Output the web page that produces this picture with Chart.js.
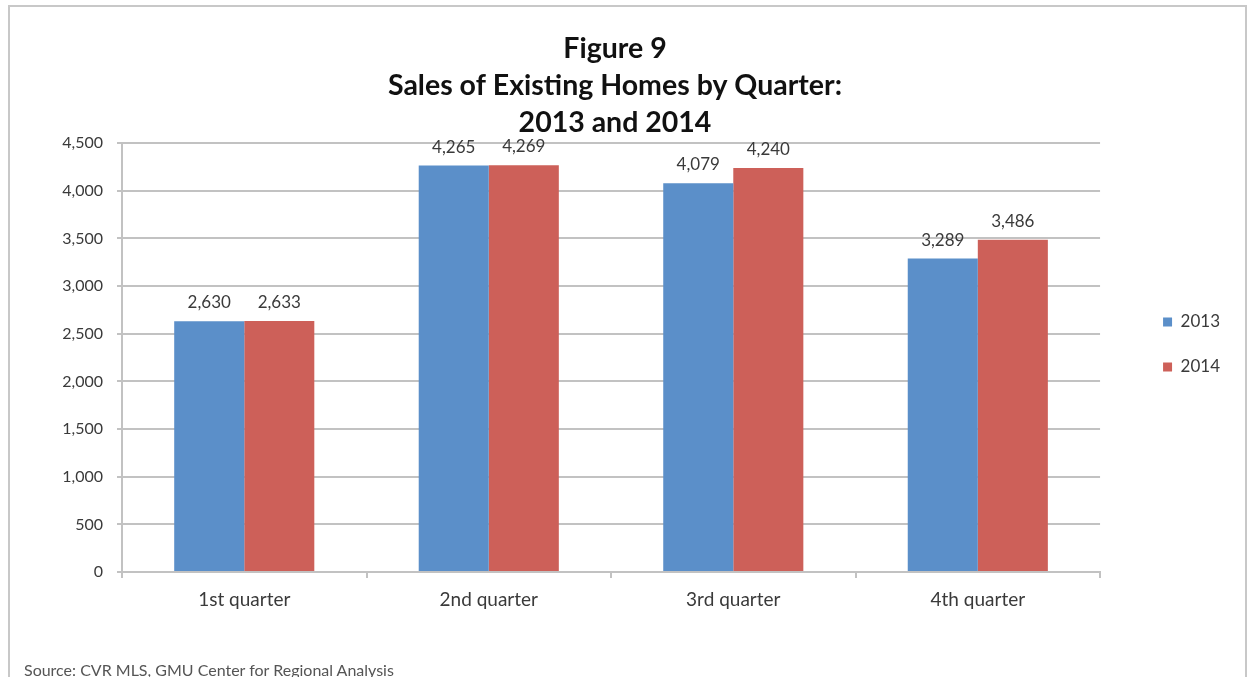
<!DOCTYPE html>
<html>
<head>
<meta charset="utf-8">
<script src="https://cdn.jsdelivr.net/npm/chart.js@4.4.1/dist/chart.umd.min.js"></script>
<style>
  body { margin: 0; background: #fff; font-family: Lato, sans-serif; }
  #frame { position: absolute; left: 8px; top: 5px; width: 1235px; height: 700px; border: 2px solid #c8c8c8; }
  #wrap { position: absolute; left: 0; top: 0; width: 1250px; height: 677px; }
  #source { position: absolute; left: 24px; top: 660px; font-size: 16px; color: #555; }
</style>
</head>
<body>
<div id="frame"></div>
<div id="wrap"><canvas id="sales-chart"></canvas></div>
<div id="source">Source: CVR MLS, GMU Center for Regional Analysis</div>
<script>
const quarters = ['1st quarter', '2nd quarter', '3rd quarter', '4th quarter']
const sales2013 = [2630, 4265, 4079, 3289]
const sales2014 = [2633, 4269, 4240, 3486]
const titleLines = ['Figure 9', 'Sales of Existing Homes by Quarter:', '2013 and 2014']

const gridColor = '#c2c2c2'
const textColor = '#3a3a3a'

// values above each bar
const barLabels = {
  id: 'barLabels',
  afterDatasetsDraw(chart) {
    const ctx = chart.ctx
    ctx.save()
    ctx.font = "17px 'Lato', sans-serif"
    ctx.fillStyle = textColor
    ctx.textAlign = 'center'
    ctx.textBaseline = 'alphabetic'
    chart.data.datasets.forEach((ds, i) => {
      chart.getDatasetMeta(i).data.forEach((bar, j) => {
        ctx.fillText(ds.data[j].toLocaleString('en-US'), bar.x, bar.y - 13)
      })
    })
    ctx.restore()
  }
}

const salesCtx = document.getElementById('sales-chart')
new Chart(salesCtx, {
  type: 'bar',
  data: {
    labels: quarters,
    datasets: [
      { label: '2013', data: sales2013, backgroundColor: '#5b8fc9' },
      { label: '2014', data: sales2014, backgroundColor: '#cd6059' }
    ]
  },
  options: {
    responsive: true,
    maintainAspectRatio: false,
    animation: false,
    datasets: { bar: { barPercentage: 1, categoryPercentage: 0.573 } },
    layout: { padding: { left: 0, right: 20, top: 30, bottom: 18 } },
    plugins: {
      title: {
        display: true,
        text: titleLines,
        color: '#111',
        font: { family: "'Lato', sans-serif", size: 28.5, weight: 'bold', lineHeight: 1.3 },
        padding: { top: 0, bottom: 2 }
      },
      legend: {
        position: 'right',
        labels: {
          color: textColor,
          boxWidth: 9,
          boxHeight: 9,
          padding: 28,
          font: { family: "'Lato', sans-serif", size: 17 }
        }
      },
      tooltip: { enabled: false }
    },
    scales: {
      x: {
        afterFit: (scale) => { scale.height = 87 },
        grid: { offset: true, drawOnChartArea: false, color: gridColor, lineWidth: 2, tickLength: 6 },
        border: { color: gridColor, width: 2 },
        ticks: { color: textColor, padding: 10, font: { family: "'Lato', sans-serif", size: 19 } }
      },
      y: {
        min: 0,
        max: 4500,
        afterFit: (scale) => { scale.width = 122 },
        grid: { color: gridColor, lineWidth: 2, tickLength: 5 },
        border: { color: gridColor, width: 2 },
        ticks: { stepSize: 500, color: textColor, padding: 14, font: { family: "'Lato', sans-serif", size: 16 } }
      },
      // empty axis that keeps a gap between the plot and the legend
      gap: {
        position: 'right',
        afterFit: (scale) => { scale.width = 35 },
        grid: { display: false },
        border: { display: false },
        ticks: { display: false }
      }
    }
  },
  plugins: [barLabels]
})
</script>
</body>
</html>
